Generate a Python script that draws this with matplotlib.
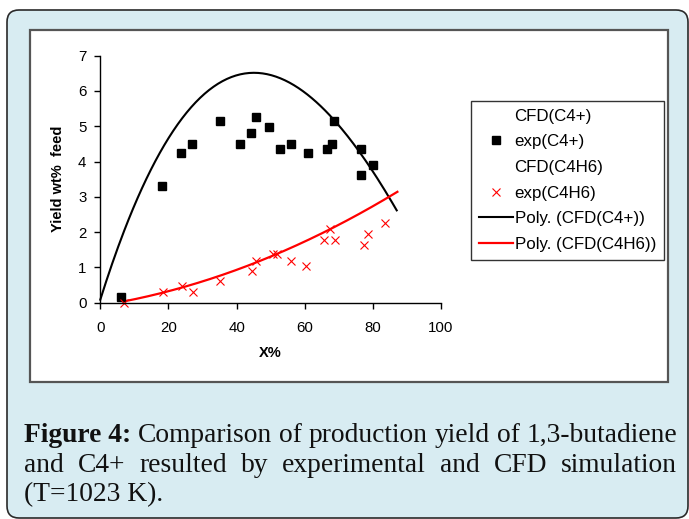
import matplotlib
matplotlib.use('Agg')
import matplotlib.pyplot as plt
from matplotlib.patches import FancyBboxPatch, Rectangle
from matplotlib.lines import Line2D
import numpy as np

# experimental points, C4+ (black squares)
exp_c4_x = [6.1, 18.2, 23.7, 26.8, 35.0, 41.1, 44.3, 45.8, 49.6, 52.8, 56.1, 60.9, 66.6, 68.1, 68.7, 76.6, 76.6, 79.9]
exp_c4_y = [0.17, 3.32, 4.23, 4.51, 5.14, 4.51, 4.82, 5.26, 4.97, 4.35, 4.51, 4.23, 4.35, 4.51, 5.15, 4.35, 3.63, 3.90]

# experimental points, C4H6 (red crosses)
exp_c4h6_x = [6.9, 18.5, 23.9, 27.1, 35.0, 44.6, 45.6, 50.8, 52.0, 56.1, 60.4, 65.8, 67.3, 69.0, 77.5, 78.5, 83.5]
exp_c4h6_y = [0.0, 0.31, 0.47, 0.31, 0.62, 0.91, 1.19, 1.39, 1.39, 1.19, 1.05, 1.78, 2.10, 1.78, 1.64, 1.96, 2.25]

# CFD series (not drawn, only their polynomial trendlines)
cfd_c4_x = [0, 6.3, 10.7, 19.8, 27.3, 35.1, 45.0, 54.7, 60.6, 68.4, 80.1, 87.0]
cfd_c4_y = [0, 1.96, 2.96, 4.61, 5.57, 6.21, 6.50, 6.31, 5.93, 5.17, 3.76, 2.58]
cfd_c4h6_x = [6.75, 18.5, 25.0, 35.1, 45.0, 50.8, 60.4, 67.4, 77.5, 83.5, 87.2]
cfd_c4h6_y = [0.03, 0.31, 0.45, 0.76, 1.07, 1.36, 1.76, 2.12, 2.55, 2.96, 3.13]

xticks = [0, 20, 40, 60, 80, 100]
yticks = [0, 1, 2, 3, 4, 5, 6, 7]

W, H = 689, 519
fig = plt.figure(figsize=(W / 100, H / 100), dpi=100, facecolor='white')

# light blue rounded panel and white chart area (inches from bottom-left)
outer = FancyBboxPatch((0.07, 0.01), 6.81, 5.08, boxstyle='round,pad=0,rounding_size=0.12',
                       fc='#d8ecf2', ec='#2a2a2a', lw=1.2, transform=fig.dpi_scale_trans, zorder=-2)
fig.add_artist(outer)
inner = Rectangle((0.30, (H - 382) / 100), 6.38, (382 - 29.5) / 100, fc='white', ec='#555555',
                  lw=1.6, transform=fig.dpi_scale_trans, zorder=-1)
fig.add_artist(inner)

ax = fig.add_axes([100.3 / W, (H - 302.7) / H, 340.7 / W, 247 / H])
ax.patch.set_visible(False)

# trendlines
p1 = np.polyfit(cfd_c4_x, cfd_c4_y, 3)
xx1 = np.linspace(min(cfd_c4_x), max(cfd_c4_x), 200)
ax.plot(xx1, np.polyval(p1, xx1), color='black', lw=1.5, clip_on=False)
p2 = np.polyfit(cfd_c4h6_x, cfd_c4h6_y, 2)
xx2 = np.linspace(min(cfd_c4h6_x), max(cfd_c4h6_x), 200)
ax.plot(xx2, np.polyval(p2, xx2), color='red', lw=1.6, clip_on=False)

ax.plot(exp_c4_x, exp_c4_y, ls='none', marker='s', ms=5.5, color='black', clip_on=False)
ax.plot(exp_c4h6_x, exp_c4h6_y, ls='none', marker='x', ms=6, mew=0.8, color='red', clip_on=False)

ax.set_xlim(0, 100)
ax.set_ylim(0, 7)
ax.set_xticks(xticks)
ax.set_yticks(yticks)
for s in ['top', 'right']:
    ax.spines[s].set_visible(False)
for s in ['left', 'bottom']:
    ax.spines[s].set_linewidth(1.0)
ax.tick_params(axis='x', direction='out', length=4, width=1, pad=9.5)
ax.tick_params(axis='y', direction='out', length=4, width=1, pad=6)
for lab in ax.get_xticklabels() + ax.get_yticklabels():
    lab.set_family('Liberation Sans')
    lab.set_fontsize(10.8)

ax.set_xlabel('X%', family='Liberation Sans', fontsize=10.5, weight='bold')
ax.xaxis.set_label_coords(0.5, (302.7 - 353) / 247)
ax.xaxis.label.set_va('center')
ax.set_ylabel('Yield wt%  feed', family='Liberation Sans', fontsize=10.5, weight='bold')
ax.yaxis.set_label_coords((58 - 100.3) / 340.7, 0.5)
ax.yaxis.label.set_va('center')

handles = [
    Line2D([], [], ls='none'),
    Line2D([], [], ls='none', marker='s', ms=5.5, color='black'),
    Line2D([], [], ls='none'),
    Line2D([], [], ls='none', marker='x', ms=6, mew=0.8, color='red'),
    Line2D([], [], color='black', lw=1.5),
    Line2D([], [], color='red', lw=1.6),
]
labels = ['CFD(C4+)', 'exp(C4+)', 'CFD(C4H6)', 'exp(C4H6)', 'Poly. (CFD(C4+))', 'Poly. (CFD(C4H6))']
leg = ax.legend(handles, labels, loc='upper left', bbox_to_anchor=(471 / W, 1 - 101 / H),
                bbox_transform=fig.transFigure, borderaxespad=0, frameon=True, fancybox=False,
                edgecolor='#333333', framealpha=1, prop={'family': 'Liberation Sans', 'size': 12.2},
                handlelength=2.0, handletextpad=0.12, labelspacing=0.63, borderpad=0.45)
leg.get_frame().set_linewidth(1.0)

# caption, justified like the journal layout
renderer = fig.canvas.get_renderer()
serif = 'Liberation Serif'


def width(txt, size, weight='normal'):
    t = fig.text(0, 0, txt, fontsize=size, family=serif, weight=weight)
    w = t.get_window_extent(renderer).width
    t.remove()
    return w


line1 = [('Figure 4:', 'bold'), ('Comparison', 'normal'), ('of', 'normal'), ('production', 'normal'),
         ('yield', 'normal'), ('of', 'normal'), ('1,3-butadiene', 'normal')]
line2 = [(w, 'normal') for w in 'and C4+ resulted by experimental and CFD simulation'.split()]
line3 = [('(T=1023 K).', 'normal')]

x0, x1 = 24, 677
sp10 = width('a b', 10) - width('ab', 10)
nat1 = sum(width(w, 10, wt) for w, wt in line1) + sp10 * (len(line1) - 1)
fsize = 10 * (x1 - x0) / nat1


def draw_line(words, ybase, justify=True):
    ws = [width(w, fsize, wt) for w, wt in words]
    if justify and len(words) > 1:
        gap = ((x1 - x0) - sum(ws)) / (len(words) - 1)
    else:
        gap = sp10 * fsize / 10
    x = x0
    for (w, wt), wd in zip(words, ws):
        fig.text(x / W, 1 - ybase / H, w, fontsize=fsize, family=serif, weight=wt,
                 ha='left', va='baseline', color='#111111')
        x += wd + gap


draw_line(line1, 441.5)
draw_line(line2, 471.5)
draw_line(line3, 501.5, justify=False)

fig.savefig('out.png', dpi=100, facecolor='white')
